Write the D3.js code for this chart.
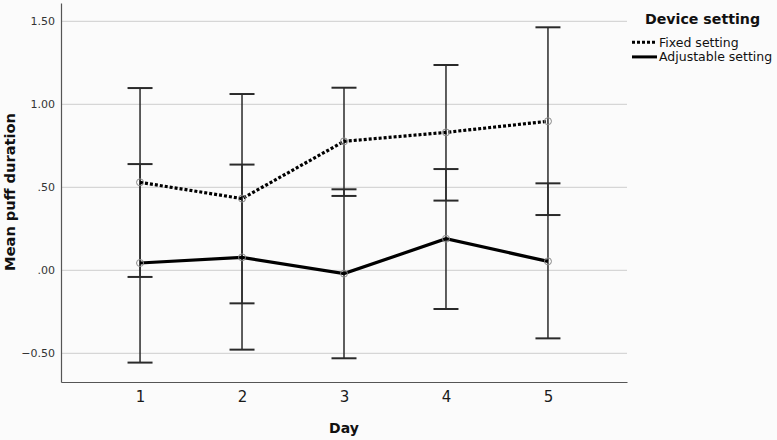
<!DOCTYPE html>
<html>
<head>
<meta charset="utf-8">
<script src="https://cdn.jsdelivr.net/npm/d3@7"></script>
<style>
  html, body { margin: 0; padding: 0; background: #fbfbfb; }
  svg { display: block; }
</style>
</head>
<body>
<svg id="chart" width="777" height="440"></svg>
<script>
const days = [1, 2, 3, 4, 5];
const yTicks = [-0.5, 0, 0.5, 1.0, 1.5];
const seriesNames = ["Fixed setting", "Adjustable setting"];
const fixedMean = [0.53, 0.432, 0.777, 0.831, 0.898];
const fixedLow  = [-0.04, -0.199, 0.448, 0.42, 0.333];
const fixedHigh = [1.098, 1.062, 1.10, 1.237, 1.464];
const adjMean   = [0.044, 0.078, -0.02, 0.19, 0.054];
const adjLow    = [-0.556, -0.478, -0.53, -0.233, -0.41];
const adjHigh   = [0.64, 0.637, 0.488, 0.61, 0.524];

(function () {
const FONT = "'DejaVu Sans', sans-serif";
const fmt = v => {
  const s = d3.format(".2f")(v);
  return s.replace(/^0\./, ".").replace(/^-0\./, "-.");
};

const svg = d3.select("#chart");
const pl = 61, pr = 627, pt = 3, pb = 382;

const x = d3.scaleLinear().domain([0.225, 5.775]).range([pl, pr]);
const y = d3.scaleLinear().domain([-0.6729, 1.6104]).range([pb, pt]);

svg.append("g").selectAll("line").data(yTicks).join("line")
  .attr("x1", pl).attr("x2", pr)
  .attr("y1", d => y(d)).attr("y2", d => y(d))
  .attr("stroke", "#d6d6d6").attr("stroke-width", 1.2);

const yAxis = d3.axisLeft(y).tickValues(yTicks).tickSize(0).tickPadding(6).tickFormat(fmt);
const gy = svg.append("g").attr("transform", `translate(${pl},0)`).call(yAxis);
gy.select(".domain").attr("stroke", "#555").attr("stroke-width", 1.2);
gy.selectAll("text").attr("font-family", FONT).attr("font-size", 11).attr("fill", "#333");

const xAxis = d3.axisBottom(x).tickValues(days).tickSize(0).tickPadding(9.5).tickFormat(d3.format("d"));
const gx = svg.append("g").attr("transform", `translate(0,${pb})`).call(xAxis);
gx.select(".domain").attr("stroke", "#555").attr("stroke-width", 1.2);
gx.selectAll("text").attr("font-family", FONT).attr("font-size", 15).attr("fill", "#1a1a1a");

svg.append("text").attr("x", x(3)).attr("y", 433).attr("text-anchor", "middle")
  .attr("font-family", FONT).attr("font-weight", "bold").attr("font-size", 14)
  .attr("fill", "#111").text("Day");
svg.append("text").attr("transform", "translate(15,192) rotate(-90)").attr("text-anchor", "middle")
  .attr("font-family", FONT).attr("font-weight", "bold").attr("font-size", 14.6)
  .attr("fill", "#111").text("Mean puff duration");

const series = [
  { name: seriesNames[0], mean: fixedMean, lo: fixedLow, hi: fixedHigh, dash: "3,2" },
  { name: seriesNames[1], mean: adjMean, lo: adjLow, hi: adjHigh, dash: null }
];
const capHalf = 12.5;
series.forEach(s => {
  const g = svg.append("g");
  days.forEach((d, i) => {
    g.append("line").attr("x1", x(d)).attr("x2", x(d)).attr("y1", y(s.lo[i])).attr("y2", y(s.hi[i]))
      .attr("stroke", "#2a2a2a").attr("stroke-width", 1.5);
    [s.lo[i], s.hi[i]].forEach(v => {
      g.append("line").attr("x1", x(d) - capHalf).attr("x2", x(d) + capHalf)
        .attr("y1", y(v)).attr("y2", y(v)).attr("stroke", "#2a2a2a").attr("stroke-width", 2);
    });
  });
});

const lineGen = d3.line().x(d => x(d[0])).y(d => y(d[1]));
series.forEach(s => {
  const pts = days.map((d, i) => [d, s.mean[i]]);
  const p = svg.append("path").datum(pts).attr("d", lineGen)
    .attr("fill", "none").attr("stroke", "#000").attr("stroke-width", 3.2);
  if (s.dash) p.attr("stroke-dasharray", s.dash);
  svg.append("g").selectAll("circle").data(pts).join("circle")
    .attr("cx", d => x(d[0])).attr("cy", d => y(d[1])).attr("r", 3.5)
    .attr("fill", "none").attr("stroke", "#8a8a8a").attr("stroke-width", 1);
});

svg.append("text").attr("x", 702.5).attr("y", 24.3).attr("text-anchor", "middle")
  .attr("font-family", FONT).attr("font-weight", "bold").attr("font-size", 14.2)
  .attr("fill", "#111").text("Device setting");
series.forEach((s, i) => {
  const yy = 42.3 + i * 14.6;
  const l = svg.append("line").attr("x1", 632).attr("x2", 657).attr("y1", yy).attr("y2", yy)
    .attr("stroke", "#000").attr("stroke-width", 3);
  if (s.dash) l.attr("stroke-dasharray", "3,2");
  svg.append("text").attr("x", 659).attr("y", yy + 4.3)
    .attr("font-family", FONT).attr("font-size", 12.5)
    .attr("fill", "#111").text(s.name);
});
})();
</script>
</body>
</html>
